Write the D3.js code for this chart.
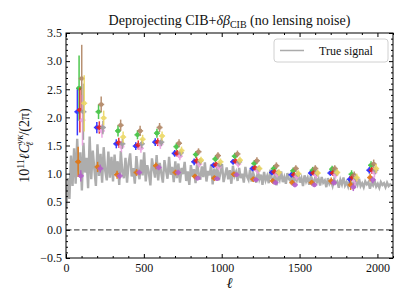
<!DOCTYPE html>
<html>
<head>
<meta charset="utf-8">
<script src="https://cdn.jsdelivr.net/npm/d3@7"></script>
<style>
  body { margin: 0; background: #fff; }
  svg { display: block; font-family: "Liberation Serif", "DejaVu Serif", serif; }
</style>
</head>
<body>
<div id="chart"></div>
<script>
// bin centres (ell) and per-series offsets inside a bin
const binCentres = [95, 220, 345, 470, 595, 720, 845, 970, 1095, 1220, 1345, 1470, 1595, 1720, 1845, 1970];
const seriesNames = ["blue", "orange", "green", "red", "purple", "brown", "pink", "gray", "olive"];
const seriesOffsets = [-22, -17, -11, -6, 0, 6, 11, 17, 22];

const blueVals   = [2.10, 1.82, 1.53, 1.49, 1.56, 1.36, 1.21, 1.15, 1.21, 1.09, 1.02, 0.98, 1.01, 1.01, 0.90, 1.06];
const orangeVals = [1.21, 1.12, 0.98, 1.02, 1.14, 1.02, 0.95, 0.92, 0.99, 0.90, 0.87, 0.84, 0.84, 0.87, 0.80, 0.93];
const greenVals  = [2.52, 2.10, 1.76, 1.69, 1.72, 1.48, 1.34, 1.26, 1.31, 1.18, 1.09, 1.05, 1.06, 1.08, 0.99, 1.15];
const redVals    = [2.13, 1.82, 1.55, 1.51, 1.56, 1.36, 1.23, 1.16, 1.22, 1.10, 1.03, 0.98, 1.01, 1.01, 0.93, 1.06];
const purpleVals = [0.96, 1.09, 0.96, 1.02, 1.11, 1.02, 0.92, 0.91, 0.98, 0.89, 0.84, 0.80, 0.80, 0.84, 0.76, 0.89];
const brownVals  = [2.69, 2.23, 1.86, 1.76, 1.82, 1.54, 1.39, 1.32, 1.35, 1.23, 1.14, 1.09, 1.09, 1.09, 0.97, 1.17];
const pinkVals   = [1.95, 1.76, 1.48, 1.45, 1.52, 1.31, 1.17, 1.12, 1.17, 1.05, 0.99, 0.95, 0.97, 0.98, 0.88, 1.02];
const grayVals   = [2.10, 1.82, 1.53, 1.53, 1.56, 1.37, 1.22, 1.16, 1.21, 1.09, 1.02, 0.99, 1.01, 1.02, 0.92, 1.06];
const oliveVals  = [2.25, 1.99, 1.65, 1.61, 1.67, 1.41, 1.24, 1.21, 1.24, 1.09, 1.02, 1.00, 1.01, 1.02, 0.93, 1.09];

const blueErr   = [0.42, 0.10, 0.08, 0.07, 0.07, 0.06, 0.06, 0.05, 0.05, 0.05, 0.05, 0.05, 0.05, 0.05, 0.06, 0.06];
const orangeErr = [0.27, 0.09, 0.07, 0.06, 0.06, 0.05, 0.05, 0.05, 0.05, 0.05, 0.05, 0.05, 0.05, 0.06, 0.09, 0.07];
const greenErr  = [0.58, 0.13, 0.10, 0.08, 0.08, 0.07, 0.06, 0.06, 0.06, 0.06, 0.06, 0.06, 0.06, 0.06, 0.07, 0.07];
const redErr    = [0.40, 0.11, 0.09, 0.08, 0.07, 0.06, 0.06, 0.05, 0.05, 0.05, 0.05, 0.05, 0.05, 0.05, 0.06, 0.06];
const purpleErr = [0.10, 0.07, 0.06, 0.05, 0.05, 0.05, 0.04, 0.04, 0.04, 0.04, 0.04, 0.04, 0.04, 0.05, 0.07, 0.06];
const brownErr  = [0.60, 0.14, 0.10, 0.09, 0.08, 0.07, 0.06, 0.06, 0.06, 0.06, 0.06, 0.06, 0.06, 0.06, 0.07, 0.08];
const pinkErr   = [0.45, 0.12, 0.10, 0.08, 0.08, 0.07, 0.06, 0.06, 0.06, 0.06, 0.06, 0.06, 0.06, 0.07, 0.09, 0.09];
const grayErr   = [0.50, 0.12, 0.09, 0.08, 0.07, 0.06, 0.06, 0.05, 0.05, 0.05, 0.05, 0.05, 0.05, 0.06, 0.07, 0.07];
const oliveErr  = [0.50, 0.13, 0.10, 0.08, 0.08, 0.07, 0.06, 0.06, 0.06, 0.06, 0.06, 0.06, 0.06, 0.06, 0.07, 0.08];

// true signal, read every 10 in ell starting at ell = 2
const trueStart = 2, trueStep = 10;
const trueSignal = [
  0.38, 0.92, 0.55, 1.32, 0.78,
  1.45, 0.82, 1.62, 0.95, 1.38, 0.70, 1.55, 1.02, 1.28, 0.74, 1.66, 0.90, 1.41, 1.08, 0.78, 1.52, 0.96, 1.35, 0.84, 1.47, 1.05, 0.88, 1.39, 0.93, 1.30,
  0.86, 1.34, 0.98, 1.22, 0.80, 1.40, 1.02, 0.92, 1.28, 0.84, 1.18, 1.36, 0.95, 1.10, 0.82, 1.31, 1.04, 0.90, 1.25, 0.97, 1.38, 0.86, 1.15, 1.02, 0.79, 1.27, 1.08, 0.93, 1.33, 0.88, 1.19, 1.01, 0.84, 1.24, 1.06, 0.91, 1.30, 0.98, 1.12, 0.85, 1.22,
  0.92, 1.18, 0.84, 1.10, 0.99, 1.21, 0.87, 1.04, 0.80, 1.15, 0.95, 1.08, 0.83, 1.19, 1.00, 0.89, 1.13, 0.94, 1.20, 0.86, 1.05, 0.97, 1.16, 0.81, 1.09, 0.93, 1.12, 0.88, 1.02, 1.17, 0.85, 0.98, 1.11, 0.90, 1.06, 0.82, 1.14, 0.96, 1.03, 0.87, 1.10, 0.92, 1.00, 0.84, 1.12, 0.95, 0.89, 1.07, 0.86, 1.01,
  0.93, 0.84, 1.05, 0.90, 0.98, 0.80, 1.03, 0.88, 0.96, 0.83, 1.07, 0.91, 0.86, 1.00, 0.79, 0.97, 0.89, 1.04, 0.85, 0.94, 0.82, 1.01, 0.90, 0.87, 0.99, 0.81, 0.95, 0.88, 1.02, 0.84, 0.92, 0.78, 0.97, 0.86, 0.93, 0.80, 0.96, 0.89, 0.83, 0.95,
  0.85, 0.91, 0.79, 0.94, 0.84, 0.88, 0.76, 0.92, 0.82, 0.87, 0.78, 0.90, 0.83, 0.86, 0.75, 0.89, 0.81, 0.93, 0.79, 0.85, 0.77, 0.88, 0.82, 0.84, 0.74, 0.87, 0.80, 0.91, 0.78, 0.83, 0.76, 0.86, 0.81, 0.85, 0.73, 0.84, 0.79, 0.87, 0.77, 0.82, 0.75, 0.85, 0.80, 0.83, 0.76, 0.84, 0.78, 0.81, 0.79
];

const xMajorTicks = [0, 500, 1000, 1500, 2000];
const yMajorTicks = [-0.5, 0.0, 0.5, 1.0, 1.5, 2.0, 2.5, 3.0, 3.5];

const seriesVals = [blueVals, orangeVals, greenVals, redVals, purpleVals, brownVals, pinkVals, grayVals, oliveVals];
const seriesErrs = [blueErr, orangeErr, greenErr, redErr, purpleErr, brownErr, pinkErr, grayErr, oliveErr];
const colors = {
  blue: "#2323ff", orange: "#e2740e", green: "#3cc23c", red: "#e8221c", purple: "#b45ecb",
  brown: "#b08462", pink: "#eb9ee0", gray: "#9c9c9c", olive: "#ecd862"
};

const width = 407, height = 305;
const margin = {top: 33, right: 14, bottom: 47, left: 66};

const svg = d3.select("#chart").append("svg")
  .attr("width", width).attr("height", height);

const x = d3.scaleLinear().domain([0, 2100]).range([margin.left, width - margin.right]);
const y = d3.scaleLinear().domain([-0.5, 3.5]).range([height - margin.bottom, margin.top]);

svg.append("defs").append("clipPath").attr("id", "clip")
  .append("rect")
  .attr("x", margin.left).attr("y", margin.top)
  .attr("width", x.range()[1] - x.range()[0])
  .attr("height", y.range()[0] - y.range()[1]);

const plot = svg.append("g").attr("clip-path", "url(#clip)");

// true signal
const trueData = trueSignal.map((v, i) => [trueStart + i * trueStep, v]);
plot.append("path")
  .datum(trueData)
  .attr("fill", "none")
  .attr("stroke", "#adadad")
  .attr("stroke-width", 2.4)
  .attr("stroke-linejoin", "miter")
  .attr("d", d3.line().x(d => x(d[0])).y(d => y(d[1])));

// zero line
plot.append("line")
  .attr("x1", x(0)).attr("x2", x(2100))
  .attr("y1", y(0)).attr("y2", y(0))
  .attr("stroke", "#555")
  .attr("stroke-width", 1.2)
  .attr("stroke-dasharray", "5.5,2.5");

// binned measurements
seriesNames.forEach((name, s) => {
  const pts = binCentres.map((c, i) => ({l: c + seriesOffsets[s], v: seriesVals[s][i], e: seriesErrs[s][i]}));
  const g = plot.append("g").attr("fill", colors[name]).attr("stroke", colors[name]).attr("opacity", 0.9);
  g.selectAll("line.ey").data(pts).join("line")
    .attr("class", "ey")
    .attr("x1", d => x(d.l)).attr("x2", d => x(d.l))
    .attr("y1", d => y(d.v - d.e)).attr("y2", d => y(d.v + d.e))
    .attr("stroke-width", 1.5);
  g.selectAll("line.ex").data(pts).join("line")
    .attr("class", "ex")
    .attr("x1", d => x(d.l) - 3).attr("x2", d => x(d.l) + 3)
    .attr("y1", d => y(d.v)).attr("y2", d => y(d.v))
    .attr("stroke-width", 1.5);
  g.selectAll("circle").data(pts).join("circle")
    .attr("cx", d => x(d.l)).attr("cy", d => y(d.v))
    .attr("r", 2.3)
    .attr("stroke", "none");
});

// axes, ticks inward on all four sides
const xMinor = d3.range(0, 2101, 100).filter(v => v % 500 !== 0);
const yMinor = d3.range(-5, 36, 1).map(v => v / 10).filter(v => Math.abs(v * 2 - Math.round(v * 2)) > 1e-6);

function addAxis(axisFn, scale, pos, major, minor, labels, pad) {
  const isX = axisFn === d3.axisBottom || axisFn === d3.axisTop;
  const tr = isX ? `translate(0,${pos})` : `translate(${pos},0)`;
  const gMaj = svg.append("g").attr("transform", tr)
    .call(axisFn(scale).tickValues(major).tickSizeInner(-4).tickSizeOuter(0).tickPadding(pad || 5)
      .tickFormat(labels ? (isX ? d3.format("d") : d3.format(".1f")) : ""));
  svg.append("g").attr("transform", tr)
    .call(axisFn(scale).tickValues(minor).tickSizeInner(-2).tickSizeOuter(0).tickFormat(""));
  svg.selectAll(".domain").remove();
  gMaj.selectAll("text").attr("font-size", 12).attr("fill", "#111")
    .attr("font-family", "\"Liberation Serif\", serif");
  return gMaj;
}
addAxis(d3.axisBottom, x, y(-0.5), xMajorTicks, xMinor, true, 5);
addAxis(d3.axisTop, x, y(3.5), xMajorTicks, xMinor, false);
addAxis(d3.axisLeft, y, x(0), yMajorTicks, yMinor, true, 4);
addAxis(d3.axisRight, y, x(2100), yMajorTicks, yMinor, false);

svg.append("rect")
  .attr("x", x(0)).attr("y", y(3.5))
  .attr("width", x(2100) - x(0)).attr("height", y(-0.5) - y(3.5))
  .attr("fill", "none").attr("stroke", "#000").attr("stroke-width", 1);

// legend
const lg = svg.append("g");
lg.append("rect")
  .attr("x", 274).attr("y", 39).attr("width", 114).attr("height", 23)
  .attr("rx", 3).attr("fill", "#fff").attr("fill-opacity", 0.85)
  .attr("stroke", "#d0d0d0").attr("stroke-width", 1);
lg.append("line")
  .attr("x1", 280).attr("x2", 304).attr("y1", 50.5).attr("y2", 50.5)
  .attr("stroke", "#ababab").attr("stroke-width", 1.5);
lg.append("text")
  .attr("x", 319).attr("y", 54.5).attr("font-size", 12).attr("fill", "#111")
  .text("True signal");

// title
const title = svg.append("text")
  .attr("x", (x(0) + x(2100)) / 2).attr("y", 25)
  .attr("text-anchor", "middle").attr("font-size", 14).attr("fill", "#111");
title.append("tspan").text("Deprojecting CIB+");
title.append("tspan").attr("font-style", "italic").text("δβ");
title.append("tspan").attr("font-size", 10).attr("dy", 3).text("CIB");
title.append("tspan").attr("dy", -3).text(" (no lensing noise)");

// x label
svg.append("text")
  .attr("x", (x(0) + x(2100)) / 2).attr("y", 288)
  .attr("text-anchor", "middle").attr("font-size", 15).attr("font-style", "italic")
  .attr("fill", "#111").text("ℓ");

// y label
const ylab = svg.append("text")
  .attr("transform", `translate(29,${(y(3.5) + y(-0.5)) / 2}) rotate(-90)`)
  .attr("text-anchor", "middle").attr("font-size", 14).attr("fill", "#111");
ylab.append("tspan").text("10");
ylab.append("tspan").attr("font-size", 10).attr("dy", -5).text("11");
ylab.append("tspan").attr("dy", 5).attr("font-style", "italic").text("ℓC");
ylab.append("tspan").attr("font-size", 10).attr("dy", -6).attr("font-style", "italic").text("yκ");
ylab.append("tspan").attr("font-size", 10).attr("dx", -11).attr("dy", 10).attr("font-style", "italic").text("ℓ");
ylab.append("tspan").attr("dx", 6).attr("dy", -4).text("/(2π)");
</script>
</body>
</html>
